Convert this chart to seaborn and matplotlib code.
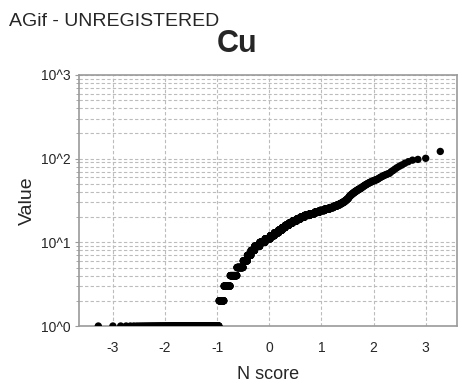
import statistics
import numpy as np
import pandas as pd
import matplotlib
matplotlib.use("Agg")
import matplotlib.pyplot as plt
import matplotlib.ticker as mticker
import seaborn as sns

# Cu values (distinct levels) and how many samples have each level
cu_levels = list(range(1, 68)) + [70, 72, 75, 78, 81, 84, 88, 92, 96, 98, 101, 122]
cu_counts = [201, 30, 41, 49, 49, 35, 31, 32, 46, 48,
             48, 38, 38, 32, 28, 32, 30, 34, 29, 31,
             37, 34, 28, 28, 24, 18, 14, 11, 8, 7,
             5, 4, 4, 2, 2,
             3, 3, 3, 3, 3, 3, 3, 3, 3, 2, 2, 2, 2, 2, 2, 2,
             2, 2, 2, 2, 2, 1, 1, 1, 1, 1, 1, 1, 1, 1, 1, 1,
             1, 1, 1, 1, 1, 1, 1, 1, 1, 1, 1, 1]

x_ticks = [-3, -2, -1, 0, 1, 2, 3]
y_ticks = [1, 10, 100, 1000]
y_tick_labels = ["10^0", "10^1", "10^2", "10^3"]

values = np.repeat(cu_levels, cu_counts)
values = np.sort(values)
n = len(values)
nd = statistics.NormalDist()
nscore = [nd.inv_cdf((i + 1 - 0.375) / (n + 0.25)) for i in range(n)]
df = pd.DataFrame({"N score": nscore, "Value": values})

sns.set_style("white")
plt.rcParams["font.family"] = ["Liberation Sans Narrow", "Liberation Sans", "DejaVu Sans"]

fig = plt.figure(figsize=(4.62, 3.89), dpi=100)
ax = fig.add_axes([79 / 462, 1 - 326 / 389, (457 - 79) / 462, (326 - 75) / 389])

sns.scatterplot(data=df, x="N score", y="Value", ax=ax, color="black",
                s=28, linewidth=0, edgecolor="none", zorder=3)

ax.set_yscale("log")
ax.set_ylim(1, 1000)
ax.set_xlim(-3.65, 3.6)
ax.set_xticks(x_ticks)
ax.set_xticklabels([str(t) for t in x_ticks])
ax.set_yticks(y_ticks)
ax.set_yticklabels(y_tick_labels)
ax.yaxis.set_minor_locator(mticker.LogLocator(base=10, subs=range(2, 10)))
ax.yaxis.set_minor_formatter(mticker.NullFormatter())

gkw = dict(color="#bcbcbc", linestyle=(0, (3, 2)), linewidth=0.8)
ax.grid(True, which="major", axis="both", **gkw)
ax.grid(True, which="minor", axis="y", **gkw)
ax.set_axisbelow(True)

for sp in ax.spines.values():
    sp.set_color("#9a9a9a")
    sp.set_linewidth(1.2)

ax.tick_params(axis="both", which="major", labelsize=10, length=3, width=0.8,
               color="#9a9a9a", left=True, bottom=False, pad=3)
ax.tick_params(axis="y", which="minor", length=2, width=0.6, color="#9a9a9a", left=True)
ax.tick_params(axis="x", pad=8)

ax.set_xlabel("N score", fontsize=13, labelpad=8)
ax.set_ylabel("Value", fontsize=14)
ax.yaxis.set_label_coords((36 - 79) / 378, 0.5)

fig.text(237 / 462, 1 - 44 / 389, "Cu", fontsize=22, fontweight="bold",
         ha="center", va="center")
fig.text(9 / 462, 1 - 22 / 389, "AGif - UNREGISTERED", fontsize=14,
         ha="left", va="center")

fig.savefig("out.png", dpi=100)
